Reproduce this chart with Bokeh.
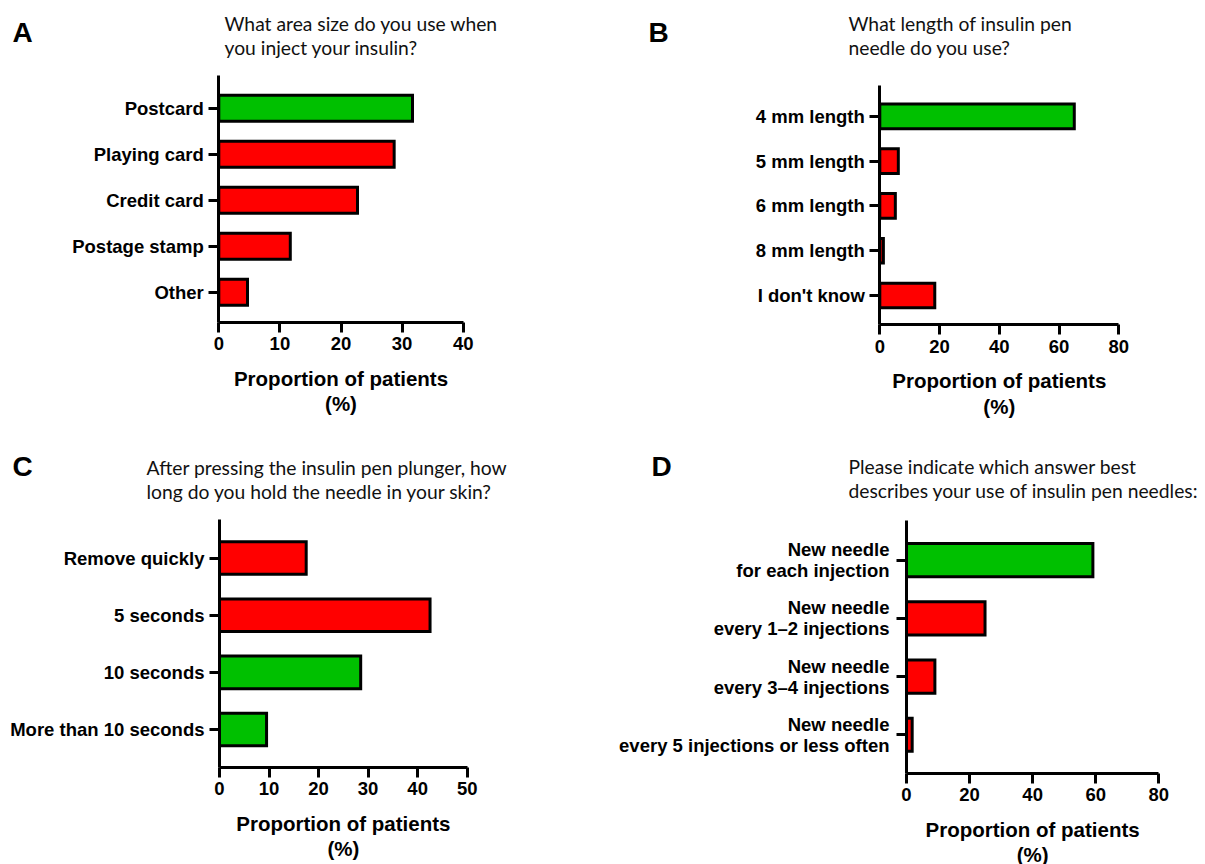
from bokeh.plotting import figure
from bokeh.models import Range1d, FixedTicker, Label, ColumnDataSource
from bokeh.layouts import row, column
from bokeh.embed import file_html
from bokeh.resources import INLINE

GREEN = "#00C000"
RED = "#FF0000"

# ---------------- data ----------------
a_categories = ["Postcard", "Playing card", "Credit card", "Postage stamp", "Other"]
a_values = [31.7, 28.7, 22.7, 11.7, 4.7]
a_correct = [True, False, False, False, False]
a_ticks = [0, 10, 20, 30, 40]
a_question = ["What area size do you use when", "you inject your insulin?"]

b_categories = ["4 mm length", "5 mm length", "6 mm length", "8 mm length", "I don't know"]
b_values = [65.1, 6.2, 5.2, 1.2, 18.4]
b_correct = [True, False, False, False, False]
b_ticks = [0, 20, 40, 60, 80]
b_question = ["What length of insulin pen", "needle do you use?"]

c_categories = ["Remove quickly", "5 seconds", "10 seconds", "More than 10 seconds"]
c_values = [17.5, 42.5, 28.5, 9.5]
c_correct = [False, False, True, True]
c_ticks = [0, 10, 20, 30, 40, 50]
c_question = ["After pressing the insulin pen plunger, how",
              "long do you hold the needle in your skin?"]

d_categories = ["New needle\nfor each injection",
                "New needle\nevery 1\u20132 injections",
                "New needle\nevery 3\u20134 injections",
                "New needle\nevery 5 injections or less often"]
d_values = [59.1, 24.9, 9.0, 1.8]
d_correct = [True, False, False, False]
d_ticks = [0, 20, 40, 60, 80]
d_question = ["Please indicate which answer best",
              "describes your use of insulin pen needles:"]

x_title = ["Proportion of patients", "(%)"]

# ---------------- layout geometry (page pixels) ----------------
COL2 = 600
ROW2 = 440
PAGE_W = 1205
PAGE_H = 864
GEOM = {
    "A": dict(x=0, y=0, w=COL2, h=ROW2, fl=218.3, ft=75.0, fw=244.4, fh=246.7,
              pad_t=0.71, pad_b=0.65, bh=0.565, ystand=5,
              qx=224, qy=(23, 47), lx=12, ly=32, ty=(377.5, 403)),
    "B": dict(x=COL2, y=0, w=PAGE_W - COL2, h=ROW2, fl=879.3, ft=85.0, fw=239.0, fh=239.3,
              pad_t=0.69, pad_b=0.655, bh=0.55, ystand=5,
              qx=848, qy=(23, 47), lx=648, ly=32, ty=(380, 405.5)),
    "C": dict(x=0, y=ROW2, w=COL2, h=PAGE_H - ROW2, fl=219.0, ft=519.3, fw=247.7, fh=247.4,
              pad_t=0.67, pad_b=0.66, bh=0.57, ystand=5,
              qx=146, qy=(467, 491), lx=12, ly=466, ty=(822.7, 848.3)),
    "D": dict(x=COL2, y=ROW2, w=PAGE_W - COL2, h=PAGE_H - ROW2, fl=906.0, ft=520.0, fw=252.3, fh=252.7,
              pad_t=0.68, pad_b=0.66, bh=0.57, ystand=7,
              qx=848, qy=(466, 490), lx=651, ly=466, ty=(829, 853.5)),
}

BOLD_FONT = "Liberation Sans"
TITLE_FONT = "Lato"


def panel(letter, cats, vals, correct, ticks, question):
    g = GEOM[letter]
    n = len(cats)
    x0, x1 = ticks[0], ticks[-1]
    ppx = g["fw"] / (x1 - x0)
    ppy = g["fh"] / (n - 1 + g["pad_b"] + g["pad_t"])

    def dx(px):
        return x0 + (px - g["fl"]) / ppx

    def dy(py):
        return -g["pad_t"] + (py - g["ft"]) / ppy

    p = figure(width=g["w"], height=g["h"], min_border=0,
               min_border_left=0, min_border_right=0,
               min_border_top=0, min_border_bottom=0,
               x_range=Range1d(dx(g["x"]), dx(g["x"] + g["w"])),
               y_range=Range1d(dy(g["y"] + g["h"]), dy(g["y"])),
               output_backend="svg", toolbar_location=None,
               outline_line_color=None, background_fill_color="white",
               border_fill_color="white")
    p.title.text = ""
    p.title.visible = False

    src = ColumnDataSource(dict(
        y=list(range(n)), v=vals,
        color=[GREEN if c else RED for c in correct]))
    p.hbar(y="y", left=0, right="v", height=g["bh"], source=src,
           fill_color="color", line_color="black", line_width=3,
           line_join="miter")

    p.xgrid.visible = False
    p.ygrid.visible = False

    for ax in (p.xaxis[0], p.yaxis[0]):
        ax.axis_line_width = 3
        ax.axis_line_color = "black"
        ax.major_tick_line_width = 3
        ax.major_tick_line_color = "black"
        ax.major_tick_out = 10
        ax.major_tick_in = 0
        ax.minor_tick_out = 0
        ax.minor_tick_in = 0
        ax.major_label_text_font = BOLD_FONT
        ax.major_label_text_font_style = "bold"
        ax.major_label_text_color = "black"

    xa = p.xaxis[0]
    xa.ticker = FixedTicker(ticks=ticks)
    xa.bounds = (x0, x1)
    xa.fixed_location = n - 1 + g["pad_b"]
    xa.major_label_text_font_size = "18.5px"
    xa.major_label_standoff = 5

    ya = p.yaxis[0]
    ya.ticker = FixedTicker(ticks=list(range(n)))
    ya.bounds = (-g["pad_t"], n - 1 + g["pad_b"])
    ya.fixed_location = 0
    ya.major_label_overrides = {i: c for i, c in enumerate(cats)}
    ya.major_label_text_font_size = "18.5px"
    ya.major_label_text_line_height = 1.0
    ya.major_label_standoff = g["ystand"]

    # panel letter
    p.add_layout(Label(x=dx(g["lx"]), y=dy(g["ly"]), text=letter,
                       text_font=BOLD_FONT, text_font_style="bold",
                       text_font_size="28px", text_color="black",
                       text_align="left", text_baseline="middle"))
    # question
    for line, py in zip(question, g["qy"]):
        p.add_layout(Label(x=dx(g["qx"]), y=dy(py), text=line,
                           text_font=TITLE_FONT, text_font_size="19.3px",
                           text_color="#111111",
                           text_align="left", text_baseline="middle"))
    # x axis title
    cx = (x0 + x1) / 2
    for line, py in zip(x_title, g["ty"]):
        p.add_layout(Label(x=cx, y=dy(py), text=line,
                           text_font=BOLD_FONT, text_font_style="bold",
                           text_font_size="20.5px", text_color="black",
                           text_align="center", text_baseline="middle"))
    return p


pa = panel("A", a_categories, a_values, a_correct, a_ticks, a_question)
pb = panel("B", b_categories, b_values, b_correct, b_ticks, b_question)
pc = panel("C", c_categories, c_values, c_correct, c_ticks, c_question)
pd = panel("D", d_categories, d_values, d_correct, d_ticks, d_question)

layout = column(row(pa, pb, spacing=0), row(pc, pd, spacing=0), spacing=0)

open("out.html", "w").write(file_html(layout, INLINE))
